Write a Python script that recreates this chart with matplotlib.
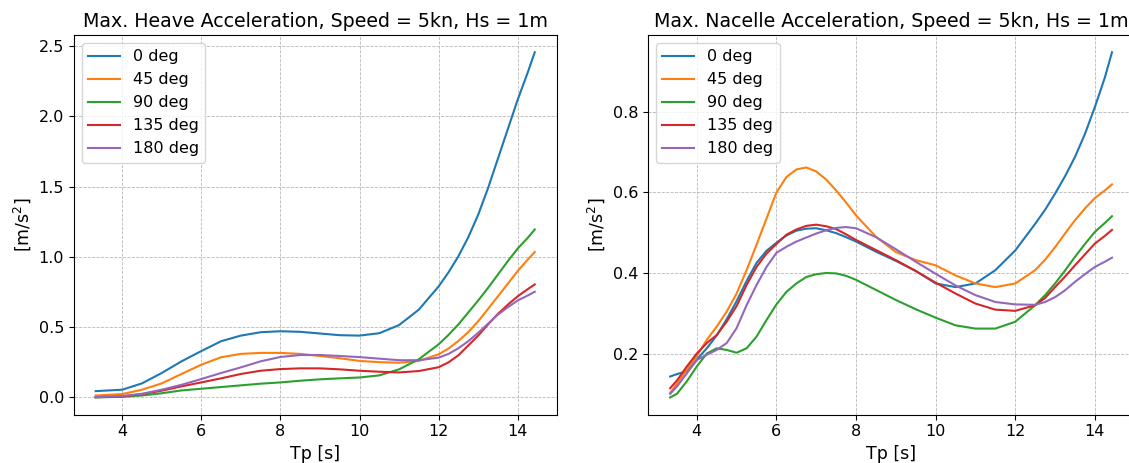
import matplotlib

matplotlib.use("Agg")
import matplotlib.pyplot as plt

# Peak period grid for the heave results
TP_HEAVE = [3.33, 4.0, 4.5, 5.0, 5.5, 6.0, 6.5, 7.0, 7.5, 8.0, 8.5, 9.0, 9.5, 10.0,
            10.5, 11.0, 11.5, 12.0, 12.25, 12.5, 12.75, 13.0, 13.25, 13.5, 13.75, 14.0, 14.25, 14.43]

HEAVE_0 = [0.045, 0.055, 0.100, 0.174, 0.257, 0.330, 0.400, 0.440, 0.464, 0.471, 0.467, 0.455, 0.443, 0.440,
           0.457, 0.515, 0.625, 0.790, 0.890, 1.005, 1.140, 1.300, 1.490, 1.700, 1.910, 2.120, 2.310, 2.456]
HEAVE_45 = [0.014, 0.024, 0.055, 0.100, 0.167, 0.233, 0.286, 0.310, 0.317, 0.317, 0.310, 0.295, 0.279, 0.260,
            0.251, 0.247, 0.260, 0.307, 0.348, 0.402, 0.465, 0.542, 0.630, 0.720, 0.810, 0.900, 0.980, 1.035]
HEAVE_90 = [0.000, 0.005, 0.014, 0.030, 0.050, 0.062, 0.074, 0.086, 0.098, 0.107, 0.119, 0.129, 0.136, 0.142,
            0.157, 0.200, 0.272, 0.378, 0.445, 0.520, 0.605, 0.690, 0.780, 0.875, 0.970, 1.060, 1.135, 1.195]
HEAVE_135 = [0.002, 0.007, 0.024, 0.048, 0.079, 0.107, 0.136, 0.167, 0.190, 0.202, 0.207, 0.207, 0.200, 0.190,
             0.183, 0.178, 0.188, 0.215, 0.250, 0.300, 0.370, 0.440, 0.520, 0.595, 0.660, 0.720, 0.770, 0.804]
HEAVE_180 = [0.002, 0.010, 0.026, 0.055, 0.090, 0.131, 0.174, 0.214, 0.257, 0.288, 0.302, 0.302, 0.295, 0.287,
             0.276, 0.265, 0.265, 0.283, 0.310, 0.350, 0.400, 0.460, 0.525, 0.590, 0.642, 0.690, 0.725, 0.752]

# Nacelle results are sampled finer where the curves bend
TP_NACELLE = [3.33, 3.5, 3.75, 4.0, 4.25, 4.5, 4.75, 5.0, 5.25, 5.5, 5.75, 6.0, 6.25, 6.5,
              6.75, 7.0, 7.25, 7.5, 7.75, 8.0, 8.5, 9.0, 9.5, 10.0, 10.5, 11.0, 11.5, 12.0,
              12.5, 12.75, 13.0, 13.25, 13.5, 13.75, 14.0, 14.25, 14.43]

NACELLE_0 = [0.143, 0.149, 0.156, 0.185, 0.213, 0.245, 0.285, 0.330, 0.380, 0.425, 0.455, 0.475, 0.493, 0.505,
             0.510, 0.511, 0.506, 0.499, 0.489, 0.478, 0.453, 0.430, 0.405, 0.374, 0.365, 0.374, 0.407, 0.456,
             0.522, 0.557, 0.597, 0.640, 0.688, 0.745, 0.812, 0.885, 0.948]
NACELLE_45 = [0.102, 0.125, 0.160, 0.194, 0.234, 0.267, 0.304, 0.349, 0.407, 0.470, 0.535, 0.600, 0.638, 0.657,
              0.662, 0.652, 0.632, 0.605, 0.575, 0.543, 0.490, 0.452, 0.432, 0.419, 0.394, 0.374, 0.365, 0.374,
              0.407, 0.433, 0.464, 0.498, 0.531, 0.560, 0.586, 0.605, 0.620]
NACELLE_90 = [0.091, 0.100, 0.131, 0.168, 0.200, 0.213, 0.209, 0.202, 0.213, 0.242, 0.283, 0.322, 0.353, 0.374,
              0.390, 0.397, 0.400, 0.399, 0.393, 0.383, 0.358, 0.333, 0.310, 0.289, 0.270, 0.262, 0.262, 0.279,
              0.320, 0.345, 0.374, 0.406, 0.440, 0.472, 0.502, 0.524, 0.541]
NACELLE_135 = [0.114, 0.133, 0.168, 0.200, 0.226, 0.246, 0.279, 0.318, 0.370, 0.415, 0.448, 0.472, 0.495, 0.508,
               0.517, 0.520, 0.516, 0.509, 0.496, 0.482, 0.457, 0.432, 0.405, 0.376, 0.349, 0.324, 0.309, 0.306,
               0.320, 0.338, 0.365, 0.391, 0.419, 0.446, 0.473, 0.492, 0.507]
NACELLE_180 = [0.100, 0.118, 0.151, 0.184, 0.197, 0.209, 0.226, 0.263, 0.320, 0.370, 0.415, 0.450, 0.465, 0.478,
               0.488, 0.498, 0.506, 0.512, 0.514, 0.511, 0.489, 0.459, 0.428, 0.398, 0.369, 0.345, 0.328, 0.322,
               0.321, 0.328, 0.340, 0.357, 0.378, 0.397, 0.415, 0.428, 0.438]

HEADINGS = ["0 deg", "45 deg", "90 deg", "135 deg", "180 deg"]
COLORS = ["#1f77b4", "#ff7f0e", "#2ca02c", "#d62728", "#9467bd"]

TICK_SIZE = 11.5
LABEL_SIZE = 12.5
TITLE_SIZE = 13.7


def draw_panel(ax, tp, series, title):
    for values, name, color in zip(series, HEADINGS, COLORS):
        ax.plot(tp, values, color=color, lw=1.5, label=name)
    ax.set_title(title, fontsize=TITLE_SIZE)
    ax.set_xlabel("Tp [s]", fontsize=LABEL_SIZE)
    ax.set_ylabel("[m/s$^2$]", fontsize=LABEL_SIZE)
    ax.set_xticks([4, 6, 8, 10, 12, 14])
    ax.tick_params(labelsize=TICK_SIZE)
    ax.grid(True, linestyle="--", linewidth=0.6, color="#b8b8b8")
    ax.legend(loc="upper left", fontsize=TICK_SIZE)


fig = plt.figure(figsize=(11.29, 4.63), dpi=100)
ax_heave = fig.add_axes([0.0653, 0.1043, 0.4278, 0.8201])
# the right panel runs slightly past the figure edge
ax_nacelle = fig.add_axes([0.574, 0.1043, 0.4305, 0.8201])

draw_panel(ax_heave, TP_HEAVE,
           [HEAVE_0, HEAVE_45, HEAVE_90, HEAVE_135, HEAVE_180],
           "Max. Heave Acceleration, Speed = 5kn, Hs = 1m")
ax_heave.set_yticks([0.0, 0.5, 1.0, 1.5, 2.0, 2.5])

draw_panel(ax_nacelle, TP_NACELLE,
           [NACELLE_0, NACELLE_45, NACELLE_90, NACELLE_135, NACELLE_180],
           "Max. Nacelle Acceleration, Speed = 5kn, Hs = 1m")
ax_nacelle.set_yticks([0.2, 0.4, 0.6, 0.8])

fig.savefig("out.png", dpi=100)
